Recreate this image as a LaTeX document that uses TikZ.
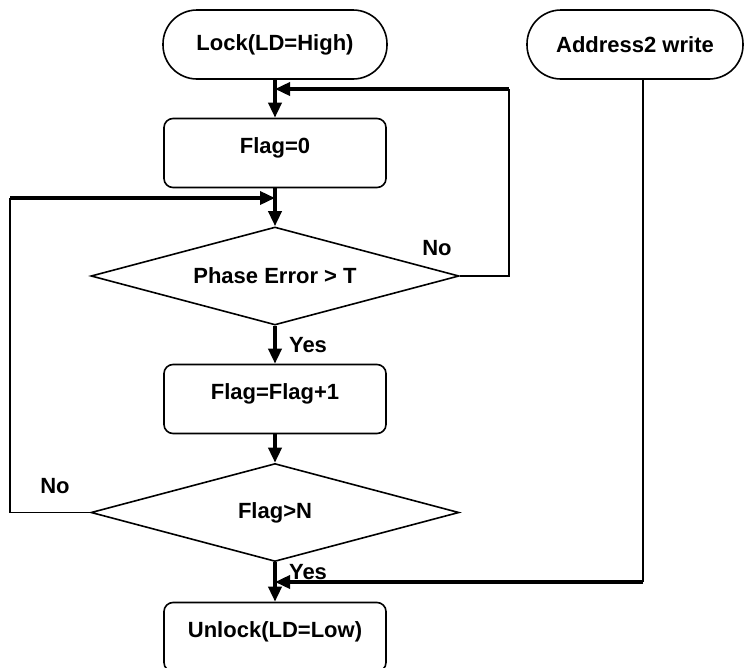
\documentclass[tikz,border=0pt]{standalone}
\usepackage{fontspec}
\setmainfont{Liberation Sans}
\usetikzlibrary{shapes.geometric,arrows.meta}
\begin{document}
\begin{tikzpicture}[x=1pt,y=-1pt,
  every node/.style={font=\fontsize{22}{26}\selectfont\bfseries},
  term/.style={draw, line width=1.6pt, rectangle, rounded corners=34pt, minimum height=69pt, inner sep=0pt},
  proc/.style={draw, line width=1.6pt, rectangle, rounded corners=9pt, minimum width=222pt, minimum height=69pt, text height=15pt, text depth=15pt, inner sep=0pt},
  decide/.style={draw, line width=1.6pt, diamond, aspect=3.75, minimum width=368pt, minimum height=98pt, inner sep=0pt},
  lbl/.style={inner sep=0pt, text height=16pt, text depth=0pt},
  flow/.style={line width=3.5pt, -{Triangle[length=15pt,width=13pt]}},
  back/.style={line width=1.8pt},
]
\useasboundingbox (0,0) rectangle (744,667);

\node[term, minimum width=224pt] (lock) at (275,44.5) {Lock(LD=High)};
\node[term, minimum width=216pt] (addr) at (635,44.5) {Address2 write};
\node[proc] (flag0) at (275,153) {Flag=0};
\node[decide] (d1) at (275,276) {Phase Error > T};
\node[proc] (inc) at (275,399) {Flag=Flag+1};
\node[decide] (d2) at (275,512.5) {Flag>N};
\node[proc] (unlock) at (275,637) {Unlock(LD=Low)};

\node[lbl] (yes1) at (308,344) {Yes};
\node[lbl] (no1) at (437,247) {No};
\node[lbl] (no2) at (55,485) {No};
\node[lbl] (yes2) at (308,571) {Yes};

\draw[flow] (lock.south) -- (flag0.north);
\draw[flow] (flag0.south) -- (d1.north);
\draw[flow] (d1.south) -- (inc.north);
\draw[flow] (inc.south) -- (d2.north);
\draw[flow] (d2.south) -- (unlock.north);

\coordinate (r1) at (509,89);
\draw[back] (d1.east) -| (r1);
\draw[flow] (r1) -- (r1 -| lock.south);

\coordinate (l1) at (10,198);
\draw[back] (d2.west) -| (l1);
\draw[flow] (l1) -- (l1 -| flag0.south);

\coordinate (r2) at (643,582);
\draw[back] (r2 |- addr.south) -- (r2);
\draw[flow] (r2) -- (r2 -| unlock.north);
\end{tikzpicture}
\end{document}
